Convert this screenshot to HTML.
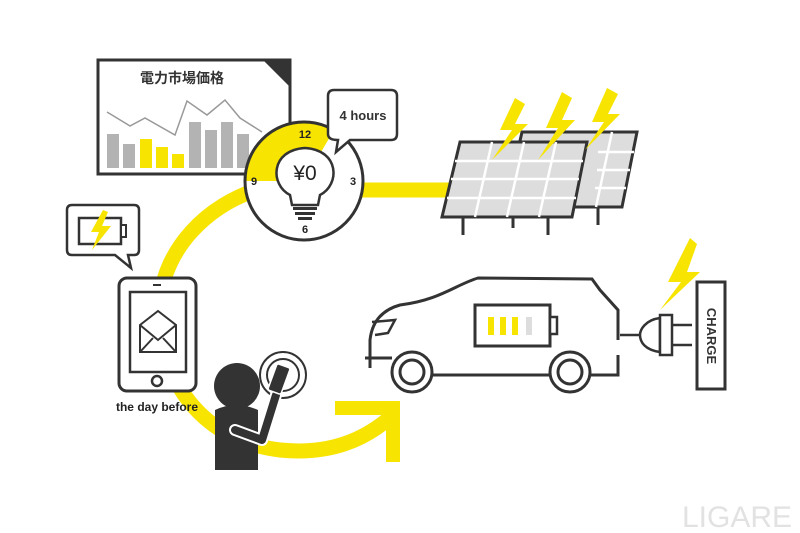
<!DOCTYPE html>
<html><head><meta charset="utf-8"><style>
html,body{margin:0;padding:0;background:#fff;}
svg{display:block;}
text{font-family:"Liberation Sans","Noto Sans CJK JP",sans-serif;font-weight:bold;}
</style></head><body>
<svg width="800" height="533" viewBox="0 0 800 533" xmlns="http://www.w3.org/2000/svg">
<!-- yellow loop -->
<g fill="none" stroke="#f7e400" stroke-width="15">
<path d="M262 188 C205 205 165 250 160 300 C155 370 195 440 280 450 C330 455 365 440 393 415"/>
<line x1="360" y1="190" x2="450" y2="190"/>
</g>
<path d="M335 401 L400 401 L400 462 L386 462 L386 415 L335 415 Z" fill="#f7e400"/>

<!-- chart -->
<rect x="98" y="60" width="192" height="114" fill="#fff" stroke="#333" stroke-width="3"/>
<path d="M262 59 L291 59 L291 88 Z" fill="#333"/>
<text x="182" y="83" font-size="14" text-anchor="middle" fill="#333">電力市場価格</text>
<g fill="#b3b3b3">
<rect x="107" y="134" width="12" height="34"/><rect x="123" y="144" width="12" height="24"/>
<rect x="189" y="122" width="12" height="46"/><rect x="205" y="130" width="12" height="38"/>
<rect x="221" y="122" width="12" height="46"/><rect x="237" y="134" width="12" height="34"/>
</g>
<g fill="#f7e400">
<rect x="140" y="139" width="12" height="29"/><rect x="156" y="147" width="12" height="21"/><rect x="172" y="154" width="12" height="14"/>
</g>
<polyline points="107,112 130,126 145,118 175,135 187,101 207,115 225,100 240,118 262,132" fill="none" stroke="#999" stroke-width="1.5"/>

<!-- clock -->
<circle cx="304" cy="181" r="59" fill="#fff"/>
<path d="M304 181 L245 181 A59 59 0 0 1 334 130 Z" fill="#f7e400"/>
<circle cx="304" cy="181" r="59" fill="none" stroke="#333" stroke-width="3"/>
<g font-size="11" text-anchor="middle" fill="#222">
<text x="305" y="138">12</text><text x="254" y="185">9</text><text x="353" y="185">3</text><text x="305" y="233">6</text>
</g>
<path d="M290 195 C270 185 270 150 305 148 C340 150 340 185 320 195 L318 205 L292 205 Z" fill="#fff" stroke="#333" stroke-width="2.5"/>
<g fill="#333"><rect x="293" y="207" width="24" height="3"/><rect x="295" y="212" width="20" height="3"/><rect x="298" y="217" width="14" height="3"/></g>
<text x="305" y="180" font-size="21" font-weight="normal" text-anchor="middle" fill="#222" style="font-weight:normal">¥0</text>
<!-- 4 hours bubble -->
<path d="M334 90 L391 90 Q397 90 397 96 L397 134 Q397 140 391 140 L350 140 L336 152 L338 140 Q328 140 328 134 L328 96 Q328 90 334 90 Z" fill="#fff" stroke="#333" stroke-width="2.5"/>
<text x="363" y="120" font-size="13" text-anchor="middle" fill="#333">4 hours</text>

<!-- solar panels -->
<g stroke="#333" stroke-width="3">
<line x1="598" y1="205" x2="598" y2="225"/><line x1="463" y1="215" x2="463" y2="235"/><line x1="513" y1="215" x2="513" y2="228"/><line x1="548" y1="215" x2="548" y2="235"/>
</g>
<path d="M522 132 L637 132 L622 207 L505 207 Z" fill="#ddd" stroke="#333" stroke-width="3"/>
<path d="M460 142 L587 142 L572 217 L442 217 Z" fill="#ddd" stroke="#333" stroke-width="3"/>
<g stroke="#fff" stroke-width="2.5">
<line x1="455" y1="161" x2="583" y2="161"/><line x1="451" y1="179" x2="579" y2="179"/><line x1="447" y1="198" x2="576" y2="198"/>
<line x1="492" y1="142" x2="475" y2="217"/><line x1="524" y1="142" x2="507" y2="217"/><line x1="556" y1="142" x2="539" y2="217"/>
<line x1="598" y1="152" x2="634" y2="152"/><line x1="597" y1="170" x2="630" y2="170"/><line x1="595" y1="188" x2="626" y2="188"/>
<line x1="612" y1="132" x2="596" y2="207"/>
</g>
<g fill="#f7e400">
<path d="M515 98 L500 130 L512 130 L492 160 L528 124 L515 124 L525 104 Z"/>
<path d="M562 92 L546 128 L558 128 L538 160 L575 120 L562 120 L572 98 Z"/>
<path d="M607 88 L592 122 L604 122 L585 150 L620 114 L608 114 L618 94 Z"/>
<path d="M690 238 L668 282 L681 282 L660 310 L700 272 L687 272 L697 244 Z"/>
</g>

<!-- car -->
<path d="M618 340 L618 310 L600 290 L592 279 L478 278 C455 285 440 300 400 305 C382 310 372 322 370 340 L370 368" fill="none" stroke="#333" stroke-width="3"/>
<path d="M372 322 L395 320 L388 333 L375 335" fill="none" stroke="#333" stroke-width="2.5"/>
<path d="M365 358 L392 358 M432 375 L550 375 M590 375 L618 375 L618 355" fill="none" stroke="#333" stroke-width="3"/>
<circle cx="412" cy="372" r="20" fill="#fff" stroke="#333" stroke-width="3"/><circle cx="412" cy="372" r="12" fill="none" stroke="#333" stroke-width="3"/>
<circle cx="570" cy="372" r="20" fill="#fff" stroke="#333" stroke-width="3"/><circle cx="570" cy="372" r="12" fill="none" stroke="#333" stroke-width="3"/>
<rect x="475" y="305" width="75" height="41" fill="#fff" stroke="#333" stroke-width="3"/>
<rect x="550" y="317" width="7" height="17" fill="#fff" stroke="#333" stroke-width="2.5"/>
<g fill="#f7e400"><rect x="488" y="317" width="6" height="18"/><rect x="500" y="317" width="6" height="18"/><rect x="512" y="317" width="6" height="18"/></g>
<rect x="526" y="317" width="6" height="18" fill="#ddd"/>
<path d="M620 335 L640 335" stroke="#333" stroke-width="2.5"/>
<path d="M660 318 C645 320 640 330 640 335 C640 342 645 350 660 352 Z" fill="#fff" stroke="#333" stroke-width="2.5"/>
<rect x="660" y="315" width="12" height="40" fill="#fff" stroke="#333" stroke-width="2.5"/>
<path d="M672 325 L692 325 M672 345 L692 345" stroke="#333" stroke-width="2.5"/>
<rect x="697" y="282" width="28" height="107" fill="#fff" stroke="#333" stroke-width="3"/>
<text x="711" y="336" font-size="13" text-anchor="middle" fill="#333" transform="rotate(90 711 336)" dy="4">CHARGE</text>

<!-- battery bubble -->
<path d="M72 205 L134 205 Q139 205 139 210 L139 250 Q139 255 134 255 L128 255 L131 268 L115 255 L72 255 Q67 255 67 250 L67 210 Q67 205 72 205 Z" fill="#fff" stroke="#333" stroke-width="2.5"/>
<rect x="79" y="218" width="42" height="26" fill="#fff" stroke="#333" stroke-width="2.5"/>
<rect x="121" y="225" width="5" height="12" fill="#fff" stroke="#333" stroke-width="2"/>
<path d="M103 210 L91 232 L99 232 L92 250 L111 226 L102 226 L108 212 Z" fill="#f7e400"/>

<!-- tablet -->
<rect x="119" y="278" width="77" height="113" rx="8" fill="#fff" stroke="#333" stroke-width="3"/>
<rect x="130" y="292" width="56" height="80" fill="#fff" stroke="#333" stroke-width="2.5"/>
<circle cx="157" cy="381" r="5" fill="#fff" stroke="#333" stroke-width="2.5"/>
<rect x="153" y="284" width="8" height="2" fill="#333"/>
<path d="M140 325 L158 311 L176 325 L176 352 L140 352 Z M140 325 L158 340 L176 325 M140 352 L153 338 M176 352 L163 338" fill="none" stroke="#333" stroke-width="2"/>
<text x="157" y="411" font-size="12" text-anchor="middle" fill="#222">the day before</text>

<!-- person -->
<circle cx="283" cy="375" r="23" fill="#fff" stroke="#333" stroke-width="2"/>
<circle cx="283" cy="375" r="16" fill="none" stroke="#333" stroke-width="2"/>
<circle cx="237" cy="386" r="23" fill="#333"/>
<path d="M215 410 Q236 400 258 410 L258 470 L215 470 Z" fill="#333"/>
<path d="M235 430 L262 440 L276 395" fill="none" stroke="#fff" stroke-width="12" stroke-linecap="round" stroke-linejoin="round"/>
<path d="M235 430 L262 440 L276 395" fill="none" stroke="#333" stroke-width="8" stroke-linecap="round" stroke-linejoin="round"/>
<rect x="272" y="365" width="14" height="28" rx="2" fill="#333" stroke="#fff" stroke-width="1.5" transform="rotate(20 279 379)"/>

<text x="737" y="527" font-size="30" text-anchor="middle" fill="#e2e2e2" style="font-weight:normal">LIGARE</text>
</svg>
</body></html>
